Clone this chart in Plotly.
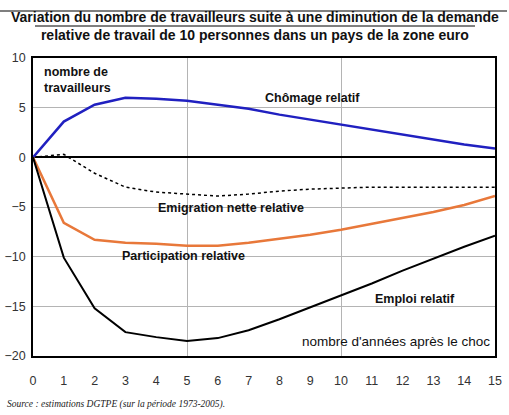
import plotly.graph_objects as go

years = list(range(0, 16))
chomage = [0, 3.6, 5.3, 6.0, 5.9, 5.7, 5.3, 4.9, 4.3, 3.8, 3.3, 2.8, 2.3, 1.8, 1.3, 0.9]
emigration = [0, 0.3, -1.6, -3.0, -3.5, -3.7, -3.9, -3.7, -3.4, -3.2, -3.1, -3.0, -3.0, -3.0, -3.0, -3.0]
participation = [0, -6.6, -8.3, -8.6, -8.7, -8.9, -8.9, -8.6, -8.2, -7.8, -7.3, -6.7, -6.1, -5.5, -4.8, -3.9]
emploi = [0, -10.1, -15.2, -17.6, -18.1, -18.5, -18.2, -17.4, -16.3, -15.1, -13.9, -12.7, -11.4, -10.2, -9.0, -7.9]

x_ticks = list(range(0, 16))
y_ticks = [10, 5, 0, -5, -10, -15, -20]

FONT = "Liberation Sans, Arial, sans-serif"

fig = go.Figure()
fig.add_trace(go.Scatter(x=years, y=emigration, mode="lines",
                         line=dict(color="#000000", width=1.5, dash="dot"), showlegend=False))
fig.add_trace(go.Scatter(x=years, y=chomage, mode="lines",
                         line=dict(color="#2020C0", width=2.5), showlegend=False))
fig.add_trace(go.Scatter(x=years, y=participation, mode="lines",
                         line=dict(color="#E8783A", width=2.5), showlegend=False))
fig.add_trace(go.Scatter(x=years, y=emploi, mode="lines",
                         line=dict(color="#000000", width=2), showlegend=False))
# invisible trace to activate overlay axis for vertical gridlines
fig.add_trace(go.Scatter(x=[0, 15], y=[0, 0], xaxis="x2", mode="lines",
                         line=dict(width=0), hoverinfo="skip", showlegend=False))

fig.update_layout(
    width=509, height=415,
    margin=dict(l=33, r=14, t=58, b=59),
    paper_bgcolor="white", plot_bgcolor="white",
    font=dict(family=FONT, size=12, color="#222222"),
    xaxis=dict(range=[0, 15], tickvals=x_ticks, ticktext=[str(v) for v in x_ticks],
               showgrid=False, zeroline=False, showline=True, linecolor="black",
               linewidth=1.5, mirror=True, ticks="", ticklen=0, automargin=False,
               ticklabelstandoff=12,
               tickfont=dict(family=FONT, size=12.5, color="#333333")),
    xaxis2=dict(range=[0, 15], overlaying="x", dtick=5, tick0=0, showgrid=True,
                gridcolor="#B4B4B4", gridwidth=1, showticklabels=False, automargin=False,
                zeroline=False, showline=False, ticks=""),
    yaxis=dict(range=[-20, 10], tickvals=y_ticks, showgrid=True, gridcolor="#B4B4B4",
               gridwidth=1, zeroline=True, zerolinecolor="black", zerolinewidth=1.5,
               showline=True, linecolor="black", linewidth=1.5, mirror=True,
               ticks="", automargin=False, ticklabelstandoff=3,
               tickfont=dict(family=FONT, size=12.5, color="#333333")),
)

# title
fig.add_annotation(x=(255 - 33) / 462, y=1 + (58 - 26) / 298, xref="paper", yref="paper",
                   yanchor="middle", xanchor="center", showarrow=False, align="center",
                   text="<b>Variation du nombre de travailleurs suite à une diminution de la demande<br>relative de travail de 10 personnes dans un pays de la zone euro</b>",
                   font=dict(family=FONT, size=14, color="#111111"))
fig.add_shape(type="line", xref="paper", yref="paper", x0=-33 / 462, x1=474 / 462,
              y0=1 + (58 - 11) / 298, y1=1 + (58 - 11) / 298,
              line=dict(color="black", width=1.2))
fig.add_shape(type="line", xref="paper", yref="paper", x0=2 / 462, x1=442 / 462,
              y0=1 + (58 - 26) / 298, y1=1 + (58 - 26) / 298,
              line=dict(color="black", width=1))

labels = [
    ("<b>nombre de<br>travailleurs</b>", 0.29, 7.75, "left"),
    ("<b>Chômage relatif</b>", 9.06, 5.94, "center"),
    ("<b>Emigration nette relative</b>", 6.43, -5.14, "center"),
    ("<b>Participation relative</b>", 4.9, -9.97, "center"),
    ("<b>Emploi relatif</b>", 12.4, -14.3, "center"),
]
for text, x, y, al in labels:
    fig.add_annotation(x=x, y=y, text=text, showarrow=False, align=al,
                       xanchor="left" if al == "left" else "center",
                       font=dict(family=FONT, size=12.5, color="#111111"))
fig.add_annotation(x=11.8, y=-18.5, text="nombre d'années après le choc", showarrow=False,
                   xanchor="center", font=dict(family=FONT, size=13.5, color="#111111"))
fig.add_annotation(x=-28 / 462, y=-(404 - 356) / 298, xref="paper", yref="paper",
                   xanchor="left", yanchor="middle", showarrow=False,
                   text="<i>Source : estimations DGTPE (sur la période 1973-2005).</i>",
                   font=dict(family="Liberation Serif, Times New Roman, serif", size=9.5, color="#222222"))

fig.write_html("out.html", config={"displayModeBar": False},
               post_script="document.body.style.margin='0';")
